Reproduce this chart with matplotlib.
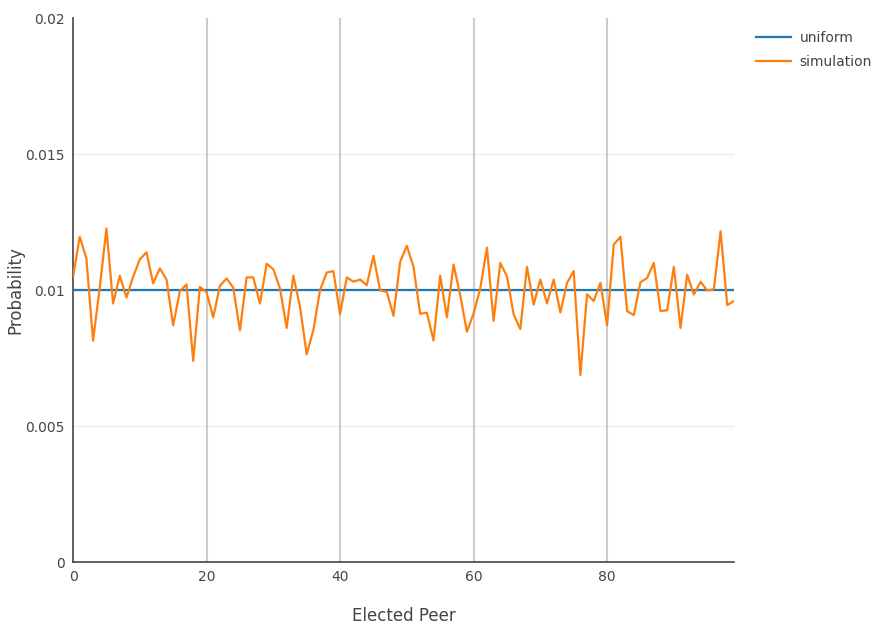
import numpy as np
import matplotlib
matplotlib.use("Agg")
import matplotlib.pyplot as plt

peers = np.arange(100)
uniform = [0.01] * 100
simulation = [
    0.01049, 0.01196, 0.01117, 0.00814, 0.01010, 0.01227, 0.00951, 0.01053, 0.00973, 0.01049,
    0.01113, 0.01139, 0.01025, 0.01080, 0.01039, 0.00871, 0.00996, 0.01021, 0.00740, 0.01012,
    0.00992, 0.00900, 0.01016, 0.01043, 0.01009, 0.00852, 0.01047, 0.01047, 0.00951, 0.01097,
    0.01077, 0.01006, 0.00861, 0.01053, 0.00939, 0.00764, 0.00853, 0.01000, 0.01065, 0.01070,
    0.00911, 0.01047, 0.01031, 0.01039, 0.01018, 0.01126, 0.00999, 0.00994, 0.00906, 0.01104,
    0.01163, 0.01086, 0.00913, 0.00917, 0.00815, 0.01053, 0.00900, 0.01094, 0.00982, 0.00847,
    0.00914, 0.01006, 0.01156, 0.00887, 0.01100, 0.01051, 0.00911, 0.00857, 0.01086, 0.00947,
    0.01039, 0.00951, 0.01039, 0.00918, 0.01027, 0.01070, 0.00688, 0.00985, 0.00960, 0.01027,
    0.00871, 0.01168, 0.01196, 0.00923, 0.00908, 0.01029, 0.01045, 0.01100, 0.00923, 0.00926,
    0.01086, 0.00861, 0.01057, 0.00984, 0.01031, 0.00999, 0.01003, 0.01217, 0.00945, 0.00960,
]
y_ticks = [0, 0.005, 0.01, 0.015, 0.02]
y_labels = ["0", "0.005", "0.01", "0.015", "0.02"]
x_ticks = [0, 20, 40, 60, 80]

fig = plt.figure(figsize=(8.8, 6.26), dpi=100)
ax = fig.add_axes([0.083, 0.102, 0.751, 0.869])

ax.plot(peers, uniform, color="#1f77b4", linewidth=1.6, label="uniform", zorder=3)
ax.plot(peers, simulation, color="#ff7f0e", linewidth=1.6, label="simulation", zorder=4)

ax.set_xlim(0, 99)
ax.set_ylim(0, 0.02)
ax.set_xticks(x_ticks)
ax.set_yticks(y_ticks)
ax.set_yticklabels(y_labels)

for y in y_ticks[1:-1]:
    ax.axhline(y, color="#ebebeb", linewidth=1, zorder=1)
for x in x_ticks[1:]:
    ax.axvline(x, color="#cccccc", linewidth=1.5, zorder=1)

for side in ["top", "right"]:
    ax.spines[side].set_visible(False)
for side in ["left", "bottom"]:
    ax.spines[side].set_color("#444444")
    ax.spines[side].set_linewidth(1.2)

ax.tick_params(length=0, labelsize=10, labelcolor="#444444", pad=6)
ax.set_xlabel("Elected Peer", fontsize=12, color="#444444", labelpad=16)
ax.set_ylabel("Probability", fontsize=12, color="#444444")
ax.yaxis.set_label_coords(-0.073, 0.5)

ax.legend(loc="upper left", bbox_to_anchor=(1.015, 1.0), frameon=False,
          fontsize=10, labelcolor="#444444", handlelength=2.5, handletextpad=0.6,
          labelspacing=0.75)

fig.savefig("out.png", dpi=100)
